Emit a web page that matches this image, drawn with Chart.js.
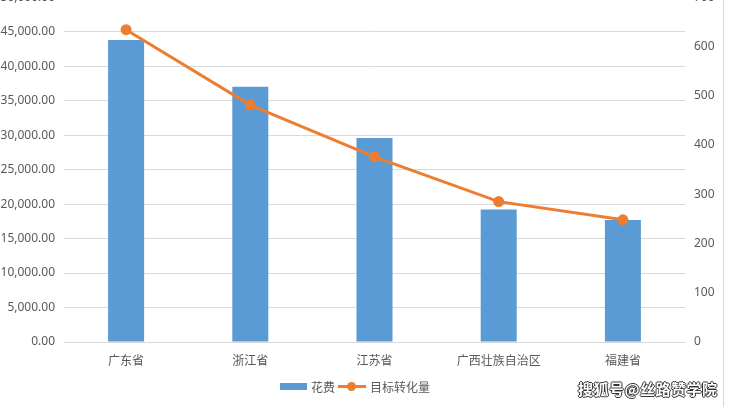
<!DOCTYPE html>
<html>
<head>
<meta charset="utf-8">
<script src="https://cdn.jsdelivr.net/npm/chart.js@4"></script>
<style>
  body { margin: 0; background: #fff; width: 730px; height: 407px; overflow: hidden; position: relative; font-family: "Noto Sans", "Noto Sans CJK SC", sans-serif; }
  #wrap { position: absolute; left: 0; top: -19px; width: 730px; height: 399px; }
  #legend { position: absolute; top: 377px; left: -10px; width: 730px; text-align: center; font-size: 12px; color: #595959; }
  #legend span { display: inline-block; vertical-align: middle; }
  .sw-bar { width: 27px; height: 7px; background: #5B9BD5; margin-right: 4px; }
  .sw-line { width: 28px; height: 9px; position: relative; margin: 0 4px 0 2px; }
  .sw-line:before { content: ""; position: absolute; left: 0; right: 0; top: 3px; height: 3px; background: #ED7D31; }
  .sw-line:after { content: ""; position: absolute; left: 9px; top: 0; width: 9px; height: 9px; border-radius: 50%; background: #ED7D31; }
  #mark { position: absolute; left: 578px; top: 378px; font-size: 15px; font-weight: bold; color: #fff; font-family: "Noto Sans CJK SC", sans-serif;
          text-shadow: -1px 0 #333, 1px 0 #333, 0 -1px #333, 0 1px #333; letter-spacing: 0.5px; }
  #edge { position: absolute; left: 723px; top: 0; width: 1px; height: 407px; background: #d9d9d9; }
</style>
</head>
<body>
<div id="wrap"><canvas id="chart"></canvas></div>
<div id="legend"><span class="sw-bar"></span><span>花费</span><span class="sw-line" style="margin-left:3px"></span><span>目标转化量</span></div>
<div id="edge"></div>
<div id="mark">搜狐号@丝路赞学院</div>
<script>
let provinces = ['广东省', '浙江省', '江苏省', '广西壮族自治区', '福建省'];
let spend = [43800, 37000, 29600, 19200, 17700];
let conversions = [634, 481, 376, 285, 248];

let tickFont = { family: '"Noto Sans", "Noto Sans CJK SC", sans-serif', size: 12 };
let tickColor = '#595959';

let ctx = document.getElementById('chart').getContext('2d');
let chart = new Chart(ctx, {
    type: 'bar',
    data: {
        labels: provinces,
        datasets: [{
            type: 'line',
            label: '目标转化量',
            data: conversions,
            yAxisID: 'y1',
            borderColor: '#ED7D31',
            backgroundColor: '#ED7D31',
            borderWidth: 3,
            pointRadius: 4,
            pointHoverRadius: 4,
            tension: 0,
            order: 0
        }, {
            label: '花费',
            data: spend,
            yAxisID: 'y',
            backgroundColor: '#5B9BD5',
            barPercentage: 0.58,
            categoryPercentage: 0.5,
            order: 1
        }]
    },
    options: {
        responsive: true,
        maintainAspectRatio: false,
        animation: false,
        layout: { padding: 0 },
        plugins: { legend: { display: false }, tooltip: { enabled: false } },
        scales: {
            x: {
                grid: { display: false },
                border: { color: '#d9d9d9' },
                ticks: { color: tickColor, font: tickFont, padding: 4 },
                afterFit: s => { s.height = 38; }
            },
            y: {
                position: 'left',
                min: 0, max: 50000,
                ticks: {
                    stepSize: 5000, color: tickColor, font: tickFont, padding: 9,
                    callback: v => v.toLocaleString('en-US', { minimumFractionDigits: 2, maximumFractionDigits: 2 })
                },
                grid: { color: '#d9d9d9', tickLength: 0 },
                border: { display: false },
                afterFit: s => { s.width = 64; }
            },
            y1: {
                position: 'right',
                min: 0, max: 700,
                ticks: { stepSize: 100, color: tickColor, font: tickFont, padding: 9 },
                grid: { drawOnChartArea: false, tickLength: 0 },
                border: { display: false },
                afterFit: s => { s.width = 45; }
            }
        }
    }
});
</script>
</body>
</html>
